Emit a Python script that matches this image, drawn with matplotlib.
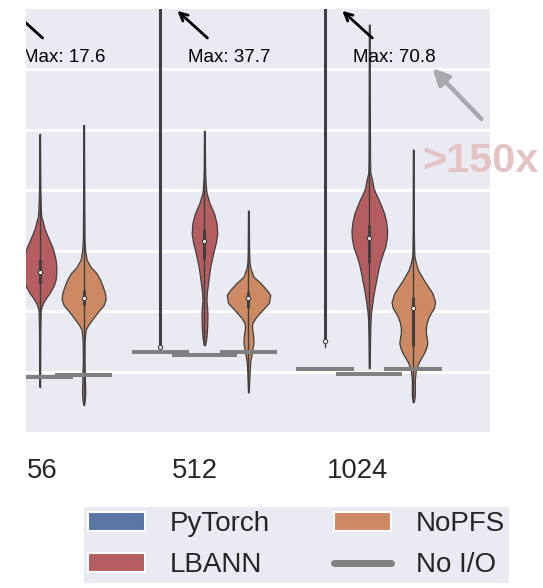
import numpy as np
import matplotlib
matplotlib.use("Agg")
import matplotlib.pyplot as plt
from matplotlib.patches import Patch
from matplotlib.lines import Line2D

plt.rcParams['font.family'] = ['Liberation Sans', 'DejaVu Sans']

# ---- data ----
groups = ['56', '512', '1024']
frameworks = ['PyTorch', 'LBANN', 'NoPFS']

# PyTorch runs: spread out far above the plot
pt_min = [0.95, 1.40, 1.41]
pt_med = [1.00, 1.41, 1.51]
pt_q3 = [10.0, 20.0, 40.0]
pt_max = [17.6, 37.7, 70.8]

# LBANN violins: value levels and kde half widths
lb_vals = [
    [0.75, 1.69, 2.00, 2.07, 2.13, 2.22, 2.30, 2.42, 2.52, 2.63, 2.73, 2.85,
     2.96, 3.06, 3.18, 3.29, 3.39, 3.51, 3.56, 3.67, 4.00, 4.93],
    [1.44, 1.47, 1.57, 1.74, 1.97, 2.18, 2.30, 2.52, 2.73, 2.96, 3.13, 3.29,
     3.46, 3.62, 3.79, 3.96, 4.05, 4.17, 4.34, 4.98],
    [1.06, 1.52, 1.74, 1.85, 1.97, 2.10, 2.23, 2.35, 2.52, 2.65, 2.80, 2.93,
     3.06, 3.21, 3.34, 3.48, 3.62, 3.72, 3.84, 3.96, 4.05, 4.17, 4.29, 4.50,
     5.49, 6.74],
]
lb_kde = [
    [0.3, 0.6, 1.0, 1.8, 3.3, 6.5, 10, 14, 16, 16.7, 16.7, 16, 14.5, 12.7,
     9.5, 6.7, 4.5, 2.7, 1.7, 1.2, 0.6, 0.2],
    [0.5, 1.0, 2.0, 2.7, 3.0, 2.0, 2.3, 4.0, 5.7, 8.7, 11.3, 12.8, 12, 9.5,
     5, 2, 1.5, 1, 0.6, 0.3],
    [0.4, 0.7, 1.0, 1.2, 1.7, 2.7, 3.8, 5.0, 7.0, 8.5, 10.5, 13, 15.8, 17.5,
     17.8, 16.8, 14.8, 12.5, 9.5, 6, 4, 2.8, 1, 0.7, 0.5, 0.3],
]
lb_q1 = [2.47, 2.86, 2.80]
lb_med = [2.65, 3.16, 3.21]
lb_q3 = [2.85, 3.36, 3.43]

# NoPFS violins
np_vals = [
    [0.45, 0.53, 0.65, 0.86, 1.19, 1.52, 1.69, 1.77, 1.85, 1.94, 2.02, 2.10,
     2.20, 2.30, 2.40, 2.52, 2.63, 2.73, 2.85, 3.01, 3.18, 3.84, 5.08],
    [0.66, 0.94, 1.16, 1.31, 1.39, 1.47, 1.56, 1.64, 1.72, 1.80, 1.90, 2.02,
     2.14, 2.27, 2.35, 2.47, 2.57, 2.71, 2.81, 3.01, 3.66],
    [0.50, 0.61, 0.86, 1.03, 1.09, 1.16, 1.23, 1.31, 1.39, 1.47, 1.56, 1.64,
     1.72, 1.80, 1.89, 1.97, 2.05, 2.15, 2.30, 2.40, 2.52, 2.60, 2.68, 2.80,
     2.90, 3.01, 3.34, 4.67],
]
np_kde = [
    [0.3, 1.2, 1.6, 1.3, 0.8, 1.0, 2.0, 4.5, 8, 12, 16, 20, 22, 21.3, 19.3,
     16.5, 12.7, 7, 3, 1.5, 0.8, 0.5, 0.2],
    [0.3, 1.0, 1.7, 3.3, 4.0, 5.0, 4.8, 4.3, 3.5, 3.8, 7.5, 14, 20.5, 21.7,
     18.3, 11.7, 5, 2, 1, 0.6, 0.3],
    [0.5, 1.5, 1.5, 2.5, 3.8, 5.5, 8, 10.8, 12.8, 14, 13.3, 12.5, 12.5, 13.3,
     15, 17.5, 20.5, 21.8, 19, 15, 10.3, 7.5, 4.7, 2.5, 1.2, 0.8, 0.5, 0.3],
]
np_q1 = [2.10, 2.05, 1.42]
np_med = [2.22, 2.22, 2.05]
np_q3 = [2.35, 2.32, 2.23]

# runtime without any I/O, per group and framework
noio = {
    'PyTorch': [0.93, 1.32, 1.05],
    'LBANN': [0.91, 1.27, 0.96],
    'NoPFS': [0.94, 1.32, 1.05],
}

colors = {'PyTorch': '#5875a4', 'LBANN': '#b55d60', 'NoPFS': '#cc8963'}
EDGE = '#3f3f3f'
NOIO = '#808080'
OFFS = {'PyTorch': -0.267, 'LBANN': 0.0, 'NoPFS': 0.267}
KDE_TO_X = 1 / 164.7
tick_shift = [0.015, -0.056, -0.070]

fig = plt.figure(figsize=(5.43, 5.88), dpi=100)
ax = fig.add_axes([26 / 543, 1 - 432 / 588, 464 / 543, 423 / 588])
ax.set_facecolor('#eaeaf2')
for s in ax.spines.values():
    s.set_visible(False)


def violin(x, vals, kde, q1, med, q3, color):
    v = np.array(vals)
    w = np.array(kde) * KDE_TO_X
    ax.fill_betweenx(v, x - w, x + w, facecolor=color, edgecolor=EDGE,
                     lw=0.9, zorder=2)
    ax.plot([x, x], [v.min(), v.max()], color=EDGE, lw=1.0, zorder=3)
    ax.plot([x, x], [q1, q3], color=EDGE, lw=2.2, solid_capstyle='butt', zorder=3)
    ax.plot(x, med, 'o', mfc='white', mec=EDGE, ms=3.0, mew=0.8, zorder=4)


for i in range(len(groups)):
    # PyTorch: only a long line, the violin is squeezed flat
    xp = i + OFFS['PyTorch']
    ax.plot([xp, xp], [pt_min[i], pt_max[i]], color=EDGE, lw=1.0, zorder=3)
    ax.plot([xp, xp], [pt_med[i], pt_q3[i]], color=EDGE, lw=2.2,
            solid_capstyle='butt', zorder=3)
    ax.plot(xp, pt_med[i], 'o', mfc='white', mec=EDGE, ms=3.0, mew=0.8, zorder=4)

    violin(i + OFFS['LBANN'], lb_vals[i], lb_kde[i], lb_q1[i], lb_med[i],
           lb_q3[i], colors['LBANN'])
    violin(i + OFFS['NoPFS'], np_vals[i], np_kde[i], np_q1[i], np_med[i],
           np_q3[i], colors['NoPFS'])

    for fw in frameworks:
        half = 0.2 if fw == 'LBANN' else 0.175
        xc = i + OFFS[fw]
        ax.plot([xc - half, xc + half], [noio[fw][i]] * 2, color=NOIO,
                lw=2.9, solid_capstyle='butt', zorder=5)

    # "Max" notes for the PyTorch runs
    arr = ax.annotate('', xy=(xp + 0.103, 6.97), xytext=(xp + 0.285, 6.52),
                      arrowprops=dict(arrowstyle='->', color='black', lw=2,
                                      mutation_scale=14, shrinkA=0, shrinkB=0),
                      annotation_clip=False)
    arr.arrow_patch.set_clip_path(ax.patch)
    ax.text(xp + 0.166, 6.20, f'Max: {pt_max[i]}', fontsize=13.5, ha='left',
            va='center', clip_on=True)

ax.annotate('', xy=(2.383, 6.02), xytext=(2.680, 5.18),
            arrowprops=dict(arrowstyle='-|>', color='#a9a9ad', lw=3.2,
                            mutation_scale=24, shrinkA=0, shrinkB=0,
                            capstyle='round'),
            annotation_clip=False)
ax.text(2.318, 4.48, '>150x', fontsize=29.8, fontweight='bold',
        color='#e5c2c4', ha='left', va='center')

ax.set_xlim(-0.0826, 2.732)
ax.set_ylim(0, 7)
ax.set_yticks([1, 2, 3, 4, 5, 6])
ax.yaxis.grid(True, color='white', lw=2.2)
ax.xaxis.grid(False)
ax.set_axisbelow(True)
ax.set_xticks([i + tick_shift[i] for i in range(len(groups))])
ax.set_xticklabels(groups, fontsize=19.8, color='#262626')
ax.tick_params(axis='x', length=0, pad=19)
ax.tick_params(axis='y', length=0, labelleft=False)

handles = [
    Patch(facecolor=colors['PyTorch'], edgecolor='white', lw=1.5, label='PyTorch'),
    Patch(facecolor=colors['LBANN'], edgecolor='white', lw=1.5, label='LBANN'),
    Patch(facecolor=colors['NoPFS'], edgecolor='white', lw=1.5, label='NoPFS'),
    Line2D([], [], color=NOIO, lw=5, solid_capstyle='round', label='No I/O'),
]
leg = fig.legend(handles=handles, ncol=2, loc='upper left',
                 bbox_to_anchor=(84 / 543, 1 - 507 / 588), borderaxespad=0,
                 fontsize=20, frameon=True, facecolor='#eaeaf2',
                 edgecolor='none', fancybox=False, framealpha=1,
                 handlelength=2.05, handletextpad=0.9, columnspacing=2.3,
                 borderpad=0.15, labelspacing=0.55)
for t in leg.get_texts():
    t.set_color('#262626')

fig.savefig('out.png', dpi=100)
